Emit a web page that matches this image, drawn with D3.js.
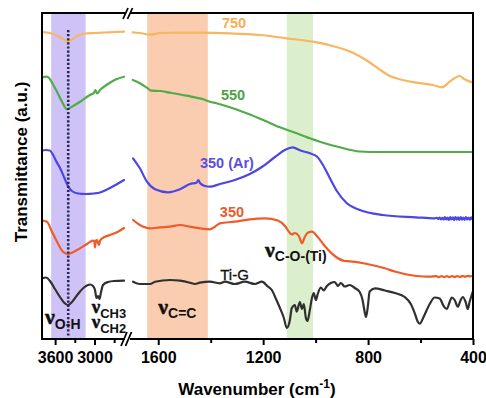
<!DOCTYPE html>
<html>
<head>
<meta charset="utf-8">
<script src="https://cdn.jsdelivr.net/npm/d3@7"></script>
<style>
  html, body { margin: 0; padding: 0; background: #fff; }
  svg { display: block; }
</style>
</head>
<body>
<svg id="chart" width="486" height="398"></svg>
<script>
// FTIR spectra, [wavenumber (cm-1), transmittance (a.u., stacked offsets)]
const ti750 = [
  [3800,307],[3680,306],[3590,304],[3495,300.5],[3400,297.5],[3345,299.5],[3250,303.5],[3145,305.5],[2990,306],[2840,306.5],[2690,307],[2550,307.3],
  [1697,306.7],[1670,306],[1631,304.3],[1593,306],[1517,306.3],[1441,306.3],[1327,305.7],[1212,304],[1110,300.7],[1010,297.3],[935,293],[858,286.3],[808,279],[757,269.7],[717,263],[679,259.7],[615,256.3],[553,254],[518,251.7],[489,257.3],[451,263],[432,259.7],[400,256.3]
];
const ti550 = [
  [3800,261.7],[3725,262.3],[3600,250.7],[3495,237.3],[3420,229.7],[3345,232.3],[3220,237.3],[3070,244],[3010,246],[2985,249],[2960,245.5],[2915,249],[2795,255],[2670,259.7],[2550,262.3],
  [1697,259],[1670,255.7],[1645,251.7],[1626,248.3],[1593,248],[1555,246.3],[1492,243.3],[1428,239.7],[1403,237.3],[1378,235.7],[1327,231.7],[1263,225.7],[1200,219],[1136,211.7],[1072,205.7],[1040,202.5],[1022,200.7],[984,197.3],[908,191.7],[832,187.5],[755,187],[400,187]
];
const ti350Ar = [
  [3800,188.5],[3740,189],[3680,188.5],[3630,184],[3585,178],[3525,171],[3465,162],[3405,153],[3345,148],[3250,145.5],[3130,145],[3010,145.5],[2915,146.5],[2825,149],[2735,152],[2640,155.5],[2550,159],
  [1696,180.7],[1670,170.7],[1643,157.3],[1612,149.7],[1563,146.7],[1517,149.7],[1479,155],[1454,156.3],[1447,159],[1441,156],[1422,153],[1403,152.3],[1365,155],[1308,159],[1251,165],[1205,172],[1155,182],[1117,189],[1087,191.7],[1060,188.7],[1022,185.7],[995,182.5],[972,174],[946,161],[919,148],[881,135.7],[832,129],[744,124],[618,121.7],[545,120.6],
  [538,121.2],[533,120.0],[527,121.5],[522,119.7],[517,121.1],[512,119.4],[507,121.8],[502,119.6],[497,121.4],[492,119.1],[487,121.9],[482,119.5],[477,121.6],[472,118.9],[467,122.0],[462,119.4],[457,121.7],[452,119.0],[447,121.9],[442,119.3],[437,121.5],[432,119.2],[427,121.8],[422,119.5],[417,121.3],[412,119.4],[407,121.6],[402,119.6],[400,120.5]
];
const ti350 = [
  [3800,118.5],[3725,117.3],[3648,107.3],[3571,97.3],[3480,87.3],[3404,85],[3266,89],[3114,95],[3023,98.3],[3002,97.5],[2992,91.7],[2980,98.5],[2962,99],[2946,96],[2931,94],[2916,98],[2885,100.7],[2763,104],[2641,107.3],[2550,111],
  [1696,119],[1670,114],[1631,110.7],[1593,111.7],[1555,112.3],[1517,114],[1479,112.3],[1441,110.7],[1403,109.7],[1384,112.3],[1365,115.7],[1308,117.3],[1251,119.7],[1193,120.7],[1144,118.5],[1117,113],[1098,106],[1091,104.5],[1079,106],[1064,103],[1052,95.7],[1041,102.3],[1030,106.3],[1014,107.3],[992,102],[965,93],[927,83],[889,78],[870,77.7],[850,77.2],[813,75.5],[736,70.7],[698,67.5],[641,64],[590,62.5],[565,62.3],
  [540,62.8],[530,61.9],[520,62.9],[510,61.8],[500,62.9],[490,61.8],[480,63],[470,61.9],[460,63],[450,62],[440,63.1],[430,62.2],[420,63.2],[410,62.6],[400,63.6]
];
const tiG = [
  [3800,60.5],[3739,61.5],[3678,58],[3602,50],[3526,42],[3465,36.5],[3404,34],[3343,37],[3251,45],[3160,51.5],[3068,54.5],[3023,53],[2992,49],[2970,41],[2946,43],[2924,40],[2900,47],[2870,54],[2794,57],[2703,58],[2550,58.3],
  [1696,57.3],[1670,55],[1631,55],[1612,57.3],[1555,59],[1517,58.3],[1479,56.3],[1460,55],[1441,56.3],[1403,57.3],[1365,55.7],[1346,57.3],[1308,55],[1270,57.3],[1231,55],[1205,57.3],[1182,52.5],[1167,49],[1151,40],[1136,31],[1121,21],[1110,11],[1098,19],[1091,30.7],[1079,34],[1072,27.3],[1060,37],[1052,30],[1045,35],[1037,21],[1031,18],[1022,29],[1014,41],[1007,46],[999,39],[992,45],[980,51.5],[969,48.5],[957,53],[942,56],[927,57],[915,53],[904,56],[889,52.5],[870,54],[851,51],[832,47],[821,39],[813,27],[808,22],[801,32.3],[794,47.5],[774,50.7],[736,48.5],[698,46],[660,42],[637,35],[622,25.7],[611,17.5],[603,15.3],[588,22.3],[565,35],[546,41.5],[527,40.5],[512,33],[500,30],[489,37],[481,41.5],[470,39],[458,32.3],[447,39],[439,42],[428,37],[420,30],[413,37],[400,48]
];

const seriesNames = ["750", "550", "350 (Ar)", "350", "Ti-G"];

// Broken wavenumber axis: high-frequency and fingerprint segments
const highRange = [3800, 2550];
const lowRange = [1700, 400];
const highMajorTicks = [3600, 3000];
const highMinorTicks = [3300, 2700];
const lowMajorTicks = [1600, 1200, 800, 400];
const lowMinorTicks = [1400, 1000, 600];

// Assigned vibration regions (cm-1) and the O-H centre
const ohBand = [3660, 3135];
const ccBand = [1642, 1411];
const coBand = [1110, 1010];
const ohCentre = 3400;

// ---- drawing ----
const svg = d3.select("#chart");
const W = 486, H = 398;
const plotLeft = 42, plotRight = 473, plotTop = 13, plotBottom = 339;
const highEnd = 124, lowStart = 132;

const xHigh = d3.scaleLinear().domain(highRange).range([plotLeft, highEnd]);
const xLow = d3.scaleLinear().domain(lowRange).range([lowStart, plotRight]);
const y = d3.scaleLinear().domain([0, plotBottom - plotTop]).range([plotBottom, plotTop]);
const xAny = wn => wn > 2000 ? xHigh(wn) : xLow(wn);

svg.append("rect").attr("width", W).attr("height", H).attr("fill", "#fff");

// shaded regions
const bandSpecs = [
  { r: ohBand, x: xHigh, fill: "#cfc2f6" },
  { r: ccBand, x: xLow, fill: "#fbcdb0" },
  { r: coBand, x: xLow, fill: "#dcefcc" }
];
svg.append("g").selectAll("rect").data(bandSpecs).join("rect")
  .attr("x", d => d.x(d.r[0]))
  .attr("width", d => d.x(d.r[1]) - d.x(d.r[0]))
  .attr("y", plotTop)
  .attr("height", plotBottom - plotTop)
  .attr("fill", d => d.fill);

// spectra
const colors = ["#f7b65f", "#52ab4b", "#4b46e4", "#f15a29", "#303030"];
const allSeries = [ti750, ti550, ti350Ar, ti350, tiG];

const lineHigh = d3.line().x(d => xHigh(d[0])).y(d => y(d[1])).curve(d3.curveMonotoneX);
const lineLow = d3.line().x(d => xLow(d[0])).y(d => y(d[1])).curve(d3.curveMonotoneX);

const gLines = svg.append("g").attr("fill", "none").attr("stroke-width", 2.2)
  .attr("stroke-linejoin", "round").attr("stroke-linecap", "round");
allSeries.forEach((s, i) => {
  gLines.append("path").attr("d", lineHigh(s.filter(d => d[0] > 2000))).attr("stroke", colors[i]);
  gLines.append("path").attr("d", lineLow(s.filter(d => d[0] < 2000))).attr("stroke", colors[i]);
});

// O-H centre marker
svg.append("line")
  .attr("x1", xHigh(ohCentre)).attr("x2", xHigh(ohCentre))
  .attr("y1", 30).attr("y2", plotBottom - 2)
  .attr("stroke", "#2b2a57").attr("stroke-width", 2.6)
  .attr("stroke-dasharray", "2.2,1.9");

// frame with axis break
const frame = svg.append("g").attr("stroke", "#000").attr("stroke-width", 2)
  .attr("fill", "none").attr("stroke-linecap", "square");
frame.append("line").attr("x1", plotLeft).attr("x2", plotLeft).attr("y1", plotTop).attr("y2", plotBottom);
frame.append("line").attr("x1", plotRight).attr("x2", plotRight).attr("y1", plotTop).attr("y2", plotBottom);
[plotTop, plotBottom].forEach(yy => {
  frame.append("line").attr("x1", plotLeft).attr("x2", highEnd).attr("y1", yy).attr("y2", yy);
  frame.append("line").attr("x1", lowStart - 1).attr("x2", plotRight).attr("y1", yy).attr("y2", yy);
});
const slashes = svg.append("g").attr("stroke", "#000").attr("stroke-width", 1.8);
[[123, 19, 128, 8], [127.5, 19, 132.5, 8], [121, 346, 127, 332], [125.5, 346, 131.5, 332]].forEach(s => {
  slashes.append("line").attr("x1", s[0]).attr("y1", s[1]).attr("x2", s[2]).attr("y2", s[3]);
});

const sans = "'Liberation Sans', Arial, sans-serif";
const serif = "'Liberation Serif', 'Times New Roman', serif";

// ticks and labels
function tickAxis(scale, values, size, labelled) {
  const ax = d3.axisBottom(scale).tickValues(values).tickSize(size).tickPadding(7)
    .tickFormat(labelled ? d3.format("d") : () => "");
  const g = svg.append("g").attr("transform", `translate(0,${plotBottom})`).call(ax);
  g.select(".domain").remove();
  g.selectAll(".tick line").attr("stroke", "#000").attr("stroke-width", 2);
  g.selectAll(".tick text")
    .attr("font-family", sans)
    .attr("font-weight", "bold").attr("font-size", 16).attr("fill", "#000");
}
tickAxis(xHigh, highMajorTicks, 6, true);
tickAxis(xHigh, highMinorTicks, 4, false);
tickAxis(xLow, lowMajorTicks, 6, true);
tickAxis(xLow, lowMinorTicks, 4, false);

// axis titles
const xt = svg.append("text").attr("x", 257).attr("y", 395).attr("text-anchor", "middle")
  .attr("font-family", sans).attr("font-weight", "bold").attr("font-size", 17).attr("fill", "#000");
xt.append("tspan").text("Wavenumber (cm");
xt.append("tspan").attr("dy", -7).attr("font-size", 12).text("-1");
xt.append("tspan").attr("dy", 7).text(")");

svg.append("text")
  .attr("transform", "translate(27,162) rotate(-90)")
  .attr("text-anchor", "middle")
  .attr("font-family", sans).attr("font-weight", "bold").attr("font-size", 17).attr("fill", "#000")
  .text("Transmittance (a.u.)");

// trace labels
const labelSpecs = [
  { wn: 1311, t: 311, color: "#f5ae57", weight: "bold", size: 14.5 },
  { wn: 1315, t: 239, color: "#4ca343", weight: "bold", size: 14.5 },
  { wn: 1338, t: 171, color: "#5a4fe2", weight: "bold", size: 14.5 },
  { wn: 1319, t: 122.5, color: "#f0582a", weight: "bold", size: 14.5 },
  { wn: 1309, t: 59, color: "#111", weight: "normal", size: 15 }
];
svg.append("g").selectAll("text").data(labelSpecs).join("text")
  .attr("x", d => xLow(d.wn)).attr("y", d => y(d.t))
  .attr("text-anchor", "middle")
  .attr("font-family", sans).attr("font-size", d => d.size)
  .attr("font-weight", d => d.weight).attr("fill", d => d.color)
  .attr("stroke", d => d.weight === "normal" ? d.color : "none")
  .attr("stroke-width", 0.3)
  .text((d, i) => seriesNames[i]);

// vibration mode labels (a label may hold several stacked lines)
const modes = [
  { wn: 3754, t: 15, subs: ["O-H"], size: 22, subSize: 14 },
  { wn: 3042, t: 26, subs: ["CH3", "CH2"], size: 19, subSize: 13 },
  { wn: 1600, t: 25.5, subs: ["C=C"], size: 22, subSize: 14 },
  { wn: 1193, t: 82.5, subs: ["C-O-(Ti)"], size: 22, subSize: 14 }
];
modes.forEach(m => {
  const x0 = xAny(m.wn);
  const t = svg.append("text").attr("x", x0).attr("y", y(m.t)).attr("fill", "#111");
  m.subs.forEach((sub, k) => {
    t.append("tspan").attr("x", x0).attr("dy", k === 0 ? 0 : 10.5)
      .attr("font-family", serif).attr("font-weight", "bold").attr("font-size", m.size)
      .attr("stroke", "#111").attr("stroke-width", 0.5).text("ν");
    t.append("tspan").attr("dy", 4.5).attr("font-family", sans).attr("font-weight", "bold")
      .attr("font-size", m.subSize).text(sub);
  });
});
</script>
</body>
</html>
